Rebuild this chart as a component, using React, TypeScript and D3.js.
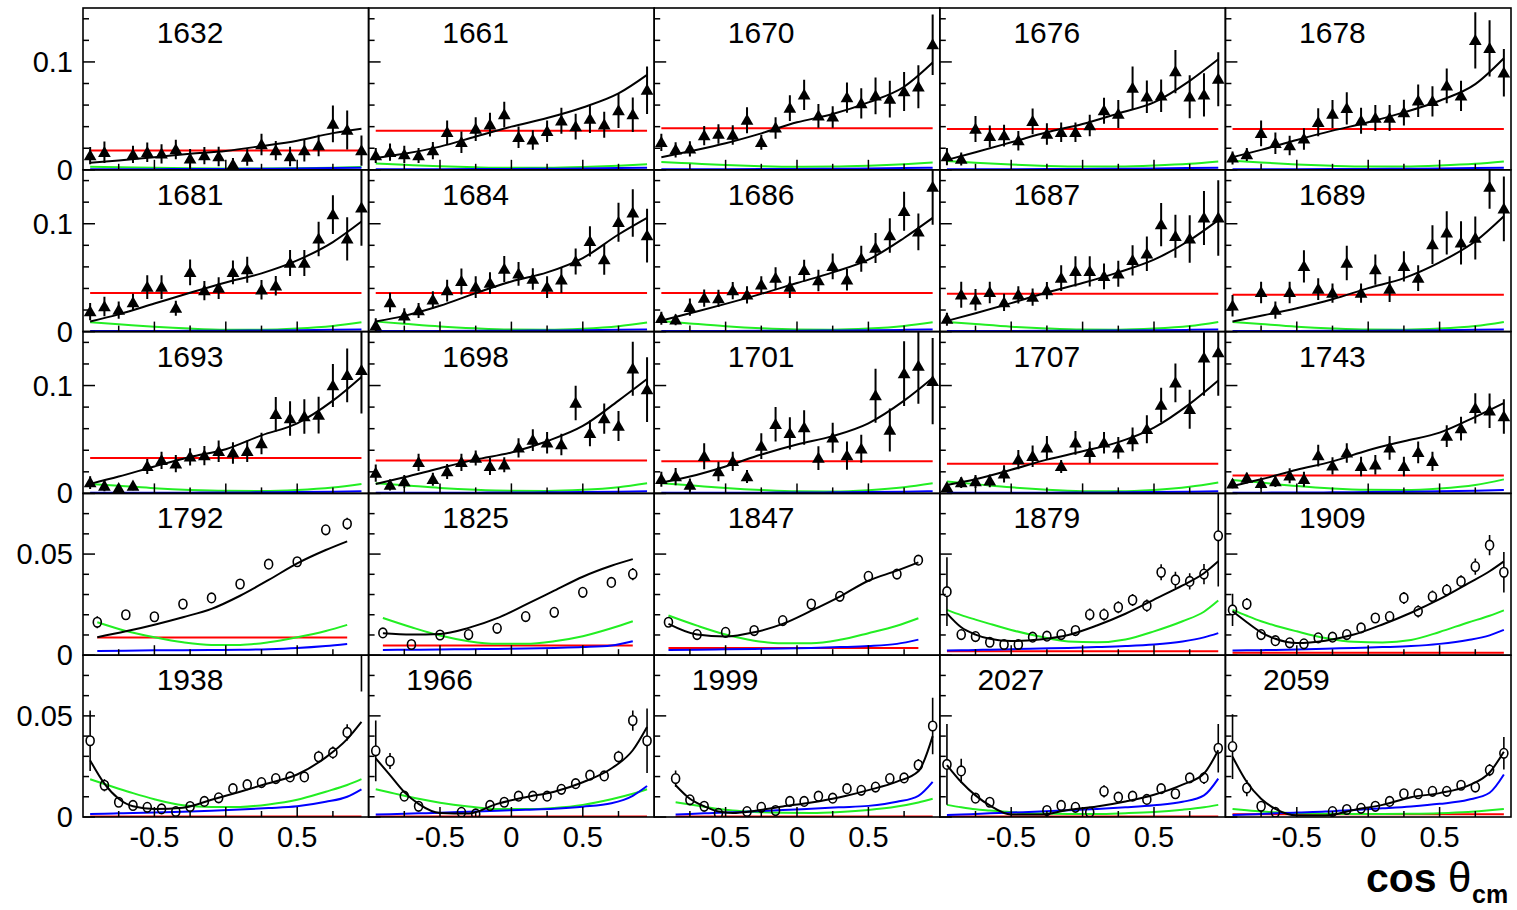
import React from "react";
import * as d3 from "d3";

// ---- curve sampling grids (cos theta) ----
const G9 = [-0.95, -0.75, -0.5, -0.25, 0, 0.25, 0.5, 0.75, 0.95];
const G13 = [-0.95, -0.85, -0.75, -0.65, -0.5, -0.3, -0.1, 0.1, 0.3, 0.5, 0.7, 0.85, 0.95];
const G13B = [-0.85, -0.75, -0.65, -0.55, -0.45, -0.3, -0.1, 0.1, 0.3, 0.5, 0.7, 0.85, 0.95];
const X20 = [-0.95, -0.85, -0.75, -0.65, -0.55, -0.45, -0.35, -0.25, -0.15, -0.05, 0.05, 0.15, 0.25, 0.35, 0.45, 0.55, 0.65, 0.75, 0.85, 0.95];
const X10 = [-0.9, -0.7, -0.5, -0.3, -0.1, 0.1, 0.3, 0.5, 0.7, 0.85];
const BLUE_LOW = [0.0005, 0.0005, 0.0006, 0.0007, 0.0008, 0.001, 0.0012, 0.0016, 0.002];

// ---- W = 1632 ----
const x1632 = [-0.95, -0.85, -0.65, -0.55, -0.45, -0.35, -0.25, -0.15, -0.05, 0.05, 0.15, 0.25, 0.35, 0.45, 0.55, 0.65, 0.75, 0.85, 0.95];
const y1632 = [0.0132, 0.0163, 0.0142, 0.0163, 0.0148, 0.0188, 0.0102, 0.0132, 0.0123, 0.0049, 0.0117, 0.0234, 0.0178, 0.0123, 0.0178, 0.0225, 0.0425, 0.0369, 0.0178];
const e1632 = [0.008, 0.01, 0.008, 0.009, 0.009, 0.009, 0.009, 0.008, 0.009, 0.006, 0.008, 0.01, 0.009, 0.009, 0.01, 0.01, 0.017, 0.018, 0.014];
const black1632 = [0.0065, 0.0086, 0.0117, 0.0148, 0.0175, 0.022, 0.027, 0.034, 0.038];
const green1632 = [0.0028, 0.0024, 0.0018, 0.0014, 0.0012, 0.0012, 0.0015, 0.002, 0.0026];
const red1632 = 0.018;

// ---- W = 1661 ----
const y1661 = [0.0132, 0.0163, 0.0142, 0.0132, 0.0178, 0.0348, 0.0255, 0.0378, 0.0418, 0.0511, 0.0302, 0.0277, 0.0357, 0.0455, 0.04, 0.0471, 0.0418, 0.0548, 0.0511, 0.0738];
const e1661 = [0.007, 0.008, 0.008, 0.007, 0.008, 0.011, 0.01, 0.011, 0.011, 0.012, 0.01, 0.009, 0.01, 0.012, 0.012, 0.013, 0.012, 0.016, 0.016, 0.022];
const black1661 = [0.011, 0.0148, 0.0215, 0.0308, 0.04, 0.048, 0.0578, 0.0708, 0.088];
const green1661 = [0.0058, 0.0046, 0.0032, 0.0023, 0.0018, 0.0019, 0.0026, 0.0038, 0.0052];
const red1661 = 0.0363;

// ---- W = 1670 ----
const y1670 = [0.0255, 0.0185, 0.0194, 0.0317, 0.0332, 0.0323, 0.046, 0.0255, 0.0388, 0.0572, 0.0695, 0.05, 0.049, 0.067, 0.0615, 0.0686, 0.0655, 0.0726, 0.077, 0.116];
const e1670 = [0.008, 0.007, 0.007, 0.009, 0.009, 0.009, 0.012, 0.007, 0.01, 0.012, 0.014, 0.011, 0.01, 0.014, 0.014, 0.017, 0.017, 0.018, 0.02, 0.028];
const black1670 = [0.0117, 0.0172, 0.0246, 0.0338, 0.044, 0.0517, 0.0625, 0.077, 0.0994];
const green1670 = [0.0072, 0.006, 0.0045, 0.0034, 0.0029, 0.003, 0.0038, 0.0052, 0.0068];
const red1670 = 0.0385;

// ---- W = 1676 ----
const y1676 = [0.0123, 0.01, 0.0378, 0.031, 0.0317, 0.027, 0.0449, 0.0332, 0.0348, 0.0348, 0.041, 0.0548, 0.0517, 0.0757, 0.0677, 0.0686, 0.091, 0.0677, 0.0695, 0.084];
const e1676 = [0.008, 0.006, 0.012, 0.01, 0.01, 0.009, 0.012, 0.01, 0.009, 0.009, 0.01, 0.012, 0.013, 0.02, 0.015, 0.015, 0.02, 0.02, 0.02, 0.025];
const black1676 = [0.0092, 0.0163, 0.0255, 0.0348, 0.0425, 0.0523, 0.0625, 0.0825, 0.1025];
const green1676 = [0.0082, 0.0066, 0.0048, 0.0036, 0.003, 0.0031, 0.004, 0.0056, 0.0078];
const red1676 = 0.0378;

// ---- W = 1678 ----
const y1678 = [0.011, 0.0142, 0.0338, 0.0246, 0.0225, 0.0286, 0.044, 0.0517, 0.057, 0.0455, 0.048, 0.048, 0.053, 0.064, 0.0634, 0.0778, 0.0686, 0.12, 0.1126, 0.09];
const e1678 = [0.006, 0.006, 0.012, 0.01, 0.009, 0.01, 0.013, 0.013, 0.015, 0.012, 0.012, 0.012, 0.012, 0.015, 0.014, 0.016, 0.014, 0.026, 0.026, 0.022];
const black1678 = [0.0117, 0.0185, 0.0277, 0.0363, 0.044, 0.0532, 0.064, 0.0794, 0.1034];
const green1678 = [0.0085, 0.0068, 0.005, 0.0037, 0.003, 0.0031, 0.004, 0.0056, 0.0078];
const red1678 = 0.0378;

// ---- W = 1681 ----
const y1681 = [0.0186, 0.0233, 0.02, 0.027, 0.0412, 0.0412, 0.0217, 0.0549, 0.038, 0.0403, 0.0549, 0.0574, 0.0388, 0.0425, 0.0636, 0.0636, 0.0859, 0.1085, 0.0859, 0.1147];
const e1681 = [0.008, 0.009, 0.008, 0.008, 0.011, 0.011, 0.007, 0.012, 0.009, 0.01, 0.011, 0.012, 0.009, 0.009, 0.012, 0.012, 0.016, 0.018, 0.02, 0.035];
const black1681 = [0.0093, 0.016, 0.026, 0.036, 0.0456, 0.054, 0.066, 0.083, 0.102];
const green1681 = [0.0086, 0.0068, 0.0045, 0.0028, 0.0018, 0.0017, 0.0028, 0.0052, 0.0086];
const red1681 = 0.0357;

// ---- W = 1684 ----
const y1684 = [0.0053, 0.027, 0.0146, 0.0195, 0.0295, 0.038, 0.0465, 0.0412, 0.045, 0.058, 0.0536, 0.0487, 0.0412, 0.048, 0.065, 0.0837, 0.0667, 0.1014, 0.11, 0.089];
const e1684 = [0.007, 0.009, 0.007, 0.007, 0.008, 0.01, 0.012, 0.01, 0.01, 0.012, 0.011, 0.01, 0.01, 0.012, 0.012, 0.014, 0.014, 0.018, 0.022, 0.025];
const black1684 = [0.0093, 0.0146, 0.0239, 0.0357, 0.0465, 0.0549, 0.0682, 0.09, 0.1054];
const green1684 = [0.0093, 0.0072, 0.0047, 0.003, 0.0019, 0.0017, 0.0027, 0.005, 0.0084];
const red1684 = 0.0357;

// ---- W = 1686 ----
const y1686 = [0.0124, 0.0109, 0.0226, 0.031, 0.0307, 0.038, 0.0341, 0.0434, 0.0496, 0.0412, 0.0567, 0.0474, 0.0605, 0.048, 0.0676, 0.0775, 0.089, 0.1116, 0.0924, 0.134];
const e1686 = [0.006, 0.005, 0.008, 0.008, 0.008, 0.008, 0.008, 0.008, 0.01, 0.01, 0.01, 0.01, 0.012, 0.01, 0.012, 0.014, 0.016, 0.018, 0.017, 0.035];
const black1686 = [0.0102, 0.017, 0.0257, 0.035, 0.045, 0.0549, 0.0667, 0.0868, 0.1054];
const green1686 = [0.0098, 0.0076, 0.005, 0.0031, 0.002, 0.0018, 0.0028, 0.0052, 0.0086];
const red1686 = 0.0357;

// ---- W = 1687 ----
const y1687 = [0.0115, 0.0341, 0.0295, 0.0363, 0.027, 0.0341, 0.032, 0.038, 0.0496, 0.0558, 0.0558, 0.0512, 0.0536, 0.066, 0.0722, 0.0992, 0.0884, 0.0859, 0.1054, 0.1054];
const e1687 = [0.006, 0.012, 0.01, 0.01, 0.008, 0.008, 0.008, 0.008, 0.012, 0.014, 0.014, 0.012, 0.012, 0.014, 0.016, 0.02, 0.02, 0.022, 0.025, 0.035];
const black1687 = [0.0099, 0.017, 0.0264, 0.0363, 0.045, 0.0549, 0.0667, 0.0847, 0.1033];
const green1687 = [0.009, 0.007, 0.0046, 0.0029, 0.0019, 0.0018, 0.0028, 0.0052, 0.009];
const red1687 = 0.035;

// ---- W = 1689 ----
const x1689 = [-0.95, -0.75, -0.65, -0.55, -0.45, -0.35, -0.25, -0.15, -0.05, 0.05, 0.15, 0.25, 0.35, 0.45, 0.55, 0.65, 0.75, 0.85, 0.95];
const y1689 = [0.0239, 0.0363, 0.02, 0.0363, 0.0605, 0.0394, 0.0357, 0.0636, 0.0357, 0.0574, 0.0394, 0.0605, 0.0496, 0.0806, 0.0915, 0.0822, 0.0868, 0.134, 0.1138];
const e1689 = [0.01, 0.01, 0.008, 0.01, 0.015, 0.01, 0.009, 0.016, 0.009, 0.014, 0.012, 0.014, 0.012, 0.018, 0.02, 0.02, 0.02, 0.02, 0.03];
const black1689 = [0.0093, 0.0146, 0.0217, 0.03, 0.0403, 0.0496, 0.0642, 0.0837, 0.107];
const green1689 = [0.009, 0.007, 0.0046, 0.0029, 0.0019, 0.0018, 0.0028, 0.0052, 0.009];
const red1689 = 0.0341;

// ---- W = 1693 ----
const y1693 = [0.01, 0.0069, 0.0047, 0.0069, 0.025, 0.0306, 0.0275, 0.0338, 0.035, 0.039, 0.0375, 0.039, 0.0463, 0.0734, 0.0694, 0.0713, 0.0725, 0.1, 0.1094, 0.114];
const e1693 = [0.006, 0.005, 0.004, 0.004, 0.007, 0.008, 0.008, 0.008, 0.009, 0.01, 0.01, 0.01, 0.01, 0.016, 0.016, 0.016, 0.017, 0.02, 0.025, 0.04];
const black1693 = [0.0088, 0.0156, 0.025, 0.0338, 0.041, 0.0538, 0.065, 0.086, 0.108];
const green1693 = [0.0088, 0.0072, 0.0048, 0.0032, 0.0024, 0.0023, 0.0032, 0.0055, 0.0088];
const red1693 = 0.0328;

// ---- W = 1698 ----
const y1698 = [0.0188, 0.0078, 0.011, 0.0288, 0.0131, 0.0203, 0.0288, 0.0328, 0.025, 0.0266, 0.0422, 0.0494, 0.0469, 0.0453, 0.0838, 0.0556, 0.0694, 0.0625, 0.1156, 0.0963];
const e1698 = [0.008, 0.005, 0.006, 0.008, 0.006, 0.007, 0.008, 0.007, 0.008, 0.007, 0.009, 0.01, 0.01, 0.01, 0.016, 0.012, 0.014, 0.014, 0.025, 0.03];
const black1698 = [0.0088, 0.015, 0.0234, 0.0313, 0.038, 0.0484, 0.0625, 0.086, 0.106];
const green1698 = [0.0094, 0.0075, 0.005, 0.0033, 0.0024, 0.0023, 0.0033, 0.0058, 0.0094];
const red1698 = 0.0306;

// ---- W = 1701 ----
const y1701 = [0.0131, 0.0156, 0.0078, 0.0344, 0.0203, 0.0297, 0.0156, 0.0438, 0.064, 0.0556, 0.061, 0.0328, 0.0516, 0.035, 0.0413, 0.0906, 0.0588, 0.111, 0.118, 0.104];
const e1701 = [0.007, 0.008, 0.006, 0.012, 0.009, 0.009, 0.006, 0.012, 0.016, 0.015, 0.016, 0.011, 0.014, 0.013, 0.013, 0.025, 0.02, 0.03, 0.035, 0.04];
const black1701 = [0.01, 0.0156, 0.025, 0.036, 0.0453, 0.0531, 0.065, 0.086, 0.107];
const green1701 = [0.0094, 0.0075, 0.005, 0.0031, 0.0019, 0.0018, 0.003, 0.0057, 0.0094];
const red1701 = 0.0297;

// ---- W = 1707 ----
const y1707 = [0.0056, 0.01, 0.011, 0.0116, 0.0181, 0.0313, 0.0344, 0.0422, 0.025, 0.0469, 0.038, 0.0469, 0.0422, 0.05, 0.0594, 0.0819, 0.1025, 0.078, 0.1256, 0.1306];
const e1707 = [0.004, 0.005, 0.006, 0.006, 0.008, 0.009, 0.01, 0.011, 0.006, 0.011, 0.01, 0.01, 0.01, 0.011, 0.013, 0.016, 0.018, 0.018, 0.035, 0.04];
const black1707 = [0.0078, 0.0131, 0.0219, 0.0313, 0.039, 0.0475, 0.061, 0.083, 0.1047];
const green1707 = [0.011, 0.0086, 0.0056, 0.0034, 0.0021, 0.0019, 0.0032, 0.0062, 0.0102];
const red1707 = 0.0275;

// ---- W = 1743 ----
const y1743 = [0.0088, 0.0141, 0.0094, 0.011, 0.0163, 0.0131, 0.035, 0.0256, 0.0375, 0.025, 0.0266, 0.0422, 0.025, 0.038, 0.0297, 0.0531, 0.06, 0.0788, 0.0766, 0.0713];
const e1743 = [0.004, 0.005, 0.005, 0.005, 0.007, 0.007, 0.01, 0.008, 0.009, 0.009, 0.009, 0.011, 0.009, 0.01, 0.009, 0.01, 0.011, 0.014, 0.016, 0.016];
const black1743 = [0.0069, 0.0131, 0.0219, 0.0297, 0.04, 0.0484, 0.0563, 0.071, 0.0838];
const green1743 = [0.0125, 0.01, 0.0068, 0.0045, 0.0033, 0.0031, 0.0045, 0.0078, 0.013];
const blue1743 = [0.0006, 0.0007, 0.0008, 0.001, 0.0012, 0.0015, 0.0019, 0.0025, 0.0032];
const red1743 = 0.0166;

// ---- W = 1792 ----
const y1792 = [0.0163, 0.02, 0.019, 0.0253, 0.0283, 0.0352, 0.045, 0.0462, 0.062, 0.065];
const e1792 = [0.003, 0.002, 0.0015, 0.0015, 0.0015, 0.0015, 0.002, 0.0015, 0.0018, 0.003];
const black1792 = [0.0089, 0.0118, 0.0151, 0.0188, 0.0229, 0.0294, 0.0372, 0.0454, 0.052, 0.0563];
const green1792 = [0.0163, 0.012, 0.0089, 0.0064, 0.0051, 0.0051, 0.0064, 0.0089, 0.012, 0.015];
const blue1792 = [0.0021, 0.0022, 0.0024, 0.0025, 0.0026, 0.0027, 0.003, 0.0036, 0.0046, 0.0056];
const red1792 = 0.0087;

// ---- W = 1825 ----
const y1825 = [0.011, 0.0053, 0.01, 0.0102, 0.0133, 0.0191, 0.0212, 0.0311, 0.036, 0.0401];
const e1825 = [0.0018, 0.0015, 0.0015, 0.0015, 0.0015, 0.0015, 0.0015, 0.0015, 0.0015, 0.003];
const black1825 = [0.0109, 0.0102, 0.0105, 0.0135, 0.0183, 0.025, 0.0319, 0.0388, 0.0442, 0.0475];
const green1825 = [0.0184, 0.0138, 0.0097, 0.0069, 0.0056, 0.0056, 0.0069, 0.0094, 0.0133, 0.0168];
const blue1825 = [0.0026, 0.0027, 0.0028, 0.003, 0.0031, 0.0033, 0.0036, 0.004, 0.0048, 0.0069];
const red1825 = 0.0048;

// ---- W = 1847 ----
const y1847 = [0.0163, 0.0102, 0.0113, 0.0122, 0.0171, 0.0253, 0.0291, 0.039, 0.0401, 0.047];
const e1847 = [0.002, 0.0015, 0.0015, 0.0015, 0.0015, 0.0015, 0.0015, 0.0015, 0.0015, 0.0025];
const black1847 = [0.0155, 0.0102, 0.0092, 0.0113, 0.0155, 0.022, 0.029, 0.0368, 0.0418, 0.0459];
const green1847 = [0.0196, 0.0146, 0.0102, 0.0072, 0.0059, 0.0059, 0.0076, 0.0109, 0.0146, 0.0183];
const blue1847 = [0.0026, 0.0027, 0.0029, 0.0031, 0.0033, 0.0036, 0.004, 0.0045, 0.0056, 0.0077];
const red1847 = 0.0036;

// ---- W = 1879 ----
const y1879 = [0.0314, 0.0102, 0.0092, 0.0064, 0.0053, 0.0053, 0.0089, 0.0094, 0.0102, 0.0122, 0.0201, 0.0201, 0.0237, 0.0273, 0.0245, 0.041, 0.0372, 0.0365, 0.0401, 0.059];
const e1879 = [0.017, 0.002, 0.0018, 0.0018, 0.0018, 0.0018, 0.0018, 0.0018, 0.0018, 0.002, 0.003, 0.003, 0.003, 0.003, 0.003, 0.004, 0.004, 0.004, 0.005, 0.025];
const black1879 = [0.0207, 0.0138, 0.0102, 0.0081, 0.007, 0.0078, 0.01, 0.0147, 0.0205, 0.0275, 0.0345, 0.0405, 0.0464];
const green1879 = [0.0224, 0.0198, 0.0176, 0.0155, 0.0125, 0.0092, 0.0068, 0.0064, 0.0078, 0.0118, 0.0168, 0.0215, 0.027];
const blue1879 = [0.0023, 0.0024, 0.0026, 0.0027, 0.003, 0.0033, 0.0036, 0.004, 0.0045, 0.0053, 0.0068, 0.0088, 0.0109];
const red1879 = 0.002;

// ---- W = 1909 ----
const y1909 = [0.0224, 0.0253, 0.0102, 0.0072, 0.0061, 0.0056, 0.0086, 0.0089, 0.0102, 0.0135, 0.0184, 0.0191, 0.0283, 0.0217, 0.029, 0.0322, 0.0365, 0.0438, 0.0544, 0.041];
const e1909 = [0.008, 0.003, 0.002, 0.002, 0.0018, 0.0018, 0.0018, 0.0018, 0.0018, 0.002, 0.002, 0.002, 0.003, 0.003, 0.003, 0.003, 0.003, 0.004, 0.005, 0.01];
const black1909 = [0.0217, 0.0163, 0.0113, 0.0081, 0.006, 0.0072, 0.0102, 0.0152, 0.021, 0.0277, 0.0355, 0.0415, 0.0464];
const green1909 = [0.0224, 0.0195, 0.0168, 0.0146, 0.0118, 0.0085, 0.0066, 0.0063, 0.0075, 0.0115, 0.0162, 0.0195, 0.0222];
const blue1909 = [0.0023, 0.0024, 0.0025, 0.0026, 0.0028, 0.0032, 0.0036, 0.004, 0.0045, 0.0056, 0.0075, 0.0098, 0.0125];
const red1909 = 0.0012;

// ---- W = 1938 ----
const y1938 = [0.0377, 0.0157, 0.0073, 0.0057, 0.0048, 0.004, 0.0027, 0.0052, 0.0077, 0.0095, 0.014, 0.016, 0.017, 0.019, 0.0198, 0.0198, 0.0298, 0.0318, 0.0418, 0.09];
const e1938 = [0.015, 0.003, 0.0018, 0.0015, 0.0015, 0.0015, 0.0015, 0.0015, 0.0015, 0.0018, 0.0018, 0.0018, 0.002, 0.002, 0.002, 0.002, 0.003, 0.003, 0.004, 0.028];
const black1938 = [0.028, 0.0165, 0.009, 0.0053, 0.004, 0.0046, 0.0085, 0.0125, 0.0167, 0.021, 0.0295, 0.0385, 0.047];
const green1938 = [0.0187, 0.0163, 0.014, 0.0118, 0.0088, 0.0058, 0.0049, 0.005, 0.0062, 0.0085, 0.0125, 0.0158, 0.0187];
const blue1938 = [0.0015, 0.0016, 0.0018, 0.002, 0.0022, 0.0026, 0.0031, 0.0037, 0.0044, 0.0053, 0.0075, 0.01, 0.0137];
const red1938 = 0.0003;

// ---- W = 1966 ----
const x1966 = [-0.95, -0.85, -0.75, -0.65, -0.35, -0.25, -0.15, -0.05, 0.05, 0.15, 0.25, 0.35, 0.45, 0.55, 0.65, 0.75, 0.85, 0.95];
const y1966 = [0.0327, 0.0277, 0.0103, 0.0053, 0.0023, 0.0015, 0.0057, 0.0073, 0.0103, 0.0103, 0.0103, 0.0137, 0.0165, 0.0207, 0.0203, 0.0298, 0.0477, 0.0377];
const e1966 = [0.015, 0.004, 0.002, 0.002, 0.0015, 0.0015, 0.0015, 0.0015, 0.0015, 0.0015, 0.0015, 0.0018, 0.002, 0.002, 0.002, 0.003, 0.005, 0.016];
const black1966 = [0.029, 0.0207, 0.0123, 0.0065, 0.002, 0.0017, 0.0065, 0.0098, 0.0125, 0.0172, 0.024, 0.033, 0.0445];
const green1966 = [0.0137, 0.0121, 0.0105, 0.009, 0.0071, 0.0052, 0.0039, 0.0039, 0.0045, 0.006, 0.0088, 0.0115, 0.0137];
const blue1966 = [0.0012, 0.0014, 0.0016, 0.0018, 0.0021, 0.0026, 0.0031, 0.0036, 0.0041, 0.0051, 0.0068, 0.0105, 0.0153];
const red1966 = 0.0003;

// ---- W = 1999 ----
const x1999 = [-0.85, -0.75, -0.65, -0.55, -0.35, -0.25, -0.15, -0.05, 0.05, 0.15, 0.25, 0.35, 0.45, 0.55, 0.65, 0.75, 0.85, 0.95];
const y1999 = [0.019, 0.0085, 0.0053, 0.0018, 0.0027, 0.0048, 0.0032, 0.0077, 0.0077, 0.0103, 0.0093, 0.014, 0.0132, 0.0148, 0.019, 0.0193, 0.0257, 0.045];
const e1999 = [0.004, 0.002, 0.0015, 0.0015, 0.0015, 0.0015, 0.0015, 0.0015, 0.0015, 0.0015, 0.0015, 0.0015, 0.0015, 0.0015, 0.0015, 0.002, 0.003, 0.014];
const black1999 = [0.0157, 0.009, 0.0053, 0.0027, 0.002, 0.003, 0.0052, 0.0072, 0.0098, 0.0133, 0.0175, 0.0226, 0.04];
const green1999 = [0.0073, 0.0062, 0.0051, 0.004, 0.0032, 0.0025, 0.0021, 0.002, 0.0025, 0.0035, 0.0052, 0.0072, 0.009];
const blue1999 = [0.0012, 0.0015, 0.0018, 0.0021, 0.0023, 0.0028, 0.0034, 0.0041, 0.0048, 0.0055, 0.0075, 0.0105, 0.0174];
const red1999 = 0.0003;

// ---- W = 2027 ----
const x2027 = [-0.95, -0.85, -0.75, -0.65, -0.25, -0.15, -0.05, 0.05, 0.15, 0.25, 0.35, 0.45, 0.55, 0.65, 0.75, 0.85, 0.95];
const y2027 = [0.026, 0.0228, 0.0093, 0.0073, 0.0032, 0.0057, 0.0048, 0.0023, 0.0127, 0.0098, 0.0103, 0.0087, 0.014, 0.0115, 0.0193, 0.0193, 0.034];
const e2027 = [0.02, 0.006, 0.002, 0.002, 0.0015, 0.0015, 0.0015, 0.0015, 0.003, 0.002, 0.002, 0.002, 0.002, 0.002, 0.002, 0.003, 0.012];
const black2027 = [0.0257, 0.0173, 0.0107, 0.0057, 0.0012, 0.0012, 0.0035, 0.0052, 0.0077, 0.011, 0.016, 0.0215, 0.033];
const green2027 = [0.006, 0.0048, 0.0038, 0.0032, 0.0024, 0.0017, 0.0015, 0.0015, 0.0019, 0.0025, 0.0036, 0.0048, 0.006];
const blue2027 = [0.001, 0.0012, 0.0015, 0.0018, 0.0022, 0.0027, 0.0033, 0.004, 0.0048, 0.0058, 0.0075, 0.0107, 0.019];
const red2027 = 0.0003;

// ---- W = 2059 ----
const x2059 = [-0.95, -0.85, -0.75, -0.65, -0.25, -0.15, -0.05, 0.05, 0.15, 0.25, 0.35, 0.45, 0.55, 0.65, 0.75, 0.85, 0.95];
const y2059 = [0.0348, 0.0143, 0.0053, 0.0023, 0.0027, 0.0037, 0.0043, 0.0053, 0.0077, 0.0115, 0.0115, 0.0127, 0.0127, 0.0157, 0.0148, 0.0232, 0.0315];
const e2059 = [0.016, 0.004, 0.002, 0.0015, 0.0015, 0.0015, 0.0015, 0.0015, 0.0015, 0.0015, 0.0015, 0.0015, 0.0015, 0.002, 0.002, 0.003, 0.008];
const black2059 = [0.0298, 0.0173, 0.009, 0.004, 0.0008, 0.0008, 0.0035, 0.006, 0.0098, 0.0118, 0.0155, 0.022, 0.0323];
const green2059 = [0.004, 0.0033, 0.0027, 0.0023, 0.0019, 0.0016, 0.0015, 0.0015, 0.0016, 0.0019, 0.0025, 0.0033, 0.004];
const blue2059 = [0.001, 0.0012, 0.0015, 0.0018, 0.0022, 0.0027, 0.0035, 0.0043, 0.0052, 0.0065, 0.0085, 0.012, 0.021];
const red2059 = 0.0013;

// ---- axis ticks ----
const X_MAJOR = [-0.5, 0, 0.5];
const X_MINOR = [-0.75, -0.25, 0.25, 0.75];
const X_LABELS = ["-0.5", "0", "0.5"];
const Y_HI_DOMAIN = [0, 0.15];
const Y_LO_DOMAIN = [0, 0.08];
const Y_HI_MAJOR = [0, 0.1];
const Y_HI_MINOR = [0.02, 0.04, 0.06, 0.08, 0.12, 0.14];
const Y_HI_LABELS = ["0", "0.1"];
const Y_LO_MAJOR = [0, 0.05];
const Y_LO_MINOR = [0.01, 0.02, 0.03, 0.04, 0.06, 0.07];
const Y_LO_LABELS = ["0", "0.05"];

type Panel = {
  w: number;
  x: number[];
  y: number[];
  e: number[];
  cx: number[];
  black: number[];
  green: number[];
  blue: number[];
  red: number;
};

const panels: Panel[] = [
  { w: 1632, x: x1632, y: y1632, e: e1632, cx: G9, black: black1632, green: green1632, blue: BLUE_LOW, red: red1632 },
  { w: 1661, x: X20, y: y1661, e: e1661, cx: G9, black: black1661, green: green1661, blue: BLUE_LOW, red: red1661 },
  { w: 1670, x: X20, y: y1670, e: e1670, cx: G9, black: black1670, green: green1670, blue: BLUE_LOW, red: red1670 },
  { w: 1676, x: X20, y: y1676, e: e1676, cx: G9, black: black1676, green: green1676, blue: BLUE_LOW, red: red1676 },
  { w: 1678, x: X20, y: y1678, e: e1678, cx: G9, black: black1678, green: green1678, blue: BLUE_LOW, red: red1678 },
  { w: 1681, x: X20, y: y1681, e: e1681, cx: G9, black: black1681, green: green1681, blue: BLUE_LOW, red: red1681 },
  { w: 1684, x: X20, y: y1684, e: e1684, cx: G9, black: black1684, green: green1684, blue: BLUE_LOW, red: red1684 },
  { w: 1686, x: X20, y: y1686, e: e1686, cx: G9, black: black1686, green: green1686, blue: BLUE_LOW, red: red1686 },
  { w: 1687, x: X20, y: y1687, e: e1687, cx: G9, black: black1687, green: green1687, blue: BLUE_LOW, red: red1687 },
  { w: 1689, x: x1689, y: y1689, e: e1689, cx: G9, black: black1689, green: green1689, blue: BLUE_LOW, red: red1689 },
  { w: 1693, x: X20, y: y1693, e: e1693, cx: G9, black: black1693, green: green1693, blue: BLUE_LOW, red: red1693 },
  { w: 1698, x: X20, y: y1698, e: e1698, cx: G9, black: black1698, green: green1698, blue: BLUE_LOW, red: red1698 },
  { w: 1701, x: X20, y: y1701, e: e1701, cx: G9, black: black1701, green: green1701, blue: BLUE_LOW, red: red1701 },
  { w: 1707, x: X20, y: y1707, e: e1707, cx: G9, black: black1707, green: green1707, blue: BLUE_LOW, red: red1707 },
  { w: 1743, x: X20, y: y1743, e: e1743, cx: G9, black: black1743, green: green1743, blue: blue1743, red: red1743 },
  { w: 1792, x: X10, y: y1792, e: e1792, cx: X10, black: black1792, green: green1792, blue: blue1792, red: red1792 },
  { w: 1825, x: X10, y: y1825, e: e1825, cx: X10, black: black1825, green: green1825, blue: blue1825, red: red1825 },
  { w: 1847, x: X10, y: y1847, e: e1847, cx: X10, black: black1847, green: green1847, blue: blue1847, red: red1847 },
  { w: 1879, x: X20, y: y1879, e: e1879, cx: G13, black: black1879, green: green1879, blue: blue1879, red: red1879 },
  { w: 1909, x: X20, y: y1909, e: e1909, cx: G13, black: black1909, green: green1909, blue: blue1909, red: red1909 },
  { w: 1938, x: X20, y: y1938, e: e1938, cx: G13, black: black1938, green: green1938, blue: blue1938, red: red1938 },
  { w: 1966, x: x1966, y: y1966, e: e1966, cx: G13, black: black1966, green: green1966, blue: blue1966, red: red1966 },
  { w: 1999, x: x1999, y: y1999, e: e1999, cx: G13B, black: black1999, green: green1999, blue: blue1999, red: red1999 },
  { w: 2027, x: x2027, y: y2027, e: e2027, cx: G13, black: black2027, green: green2027, blue: blue2027, red: red2027 },
  { w: 2059, x: x2059, y: y2059, e: e2059, cx: G13, black: black2059, green: green2059, blue: blue2059, red: red2059 },
];

// ---- layout ----
const WIDTH = 1517;
const HEIGHT = 910;
const LEFT = 83;
const TOP = 8;
const PW = 285.6;
const PH = 161.8;
const NCOL = 5;
const FONT = "'Liberation Sans', Arial, Helvetica, sans-serif";
const GREEN = "#22ee22";
const BLUE = "#0000ff";
const RED = "#ff0000";

const trianglePath = d3.symbol().type(d3.symbolTriangle).size(70)() as string;

function PanelView({ p, idx }: { p: Panel; idx: number }) {
  const row = Math.floor(idx / NCOL);
  const col = idx % NCOL;
  const x0 = LEFT + col * PW;
  const y0 = TOP + row * PH;
  const hi = row < 3;
  const xs = d3.scaleLinear().domain([-1, 1]).range([x0, x0 + PW]);
  const ys = d3.scaleLinear().domain(hi ? Y_HI_DOMAIN : Y_LO_DOMAIN).range([y0 + PH, y0]);
  const pts = (vals: number[]) => p.cx.map((c, i) => [c, vals[i]] as [number, number]);
  const line = d3
    .line<[number, number]>()
    .x((d) => xs(d[0]))
    .y((d) => ys(d[1]))
    .curve(d3.curveMonotoneX);
  const clipId = `clip-${idx}`;
  const cxFirst = p.cx[0];
  const cxLast = p.cx[p.cx.length - 1];
  const major = hi ? Y_HI_MAJOR : Y_LO_MAJOR;
  const minor = hi ? Y_HI_MINOR : Y_LO_MINOR;
  const ylabels = hi ? Y_HI_LABELS : Y_LO_LABELS;
  const titleDx = row === 4 && col > 0 ? 71 : 107;
  const rx = 4;
  const ry = 4.8;

  return (
    <g>
      <defs>
        <clipPath id={clipId}>
          <rect x={x0} y={y0} width={PW} height={PH} />
        </clipPath>
      </defs>
      <g clipPath={`url(#${clipId})`}>
        <line x1={xs(cxFirst)} x2={xs(cxLast)} y1={ys(p.red)} y2={ys(p.red)} stroke={RED} strokeWidth={2} />
        <path d={line(pts(p.green)) || ""} fill="none" stroke={GREEN} strokeWidth={2} />
        <path d={line(pts(p.blue)) || ""} fill="none" stroke={BLUE} strokeWidth={2} />
        <path d={line(pts(p.black)) || ""} fill="none" stroke="#000" strokeWidth={2} />
        {p.x.map((xv, i) => {
          const px = xs(xv);
          const py = ys(p.y[i]);
          const top = ys(p.y[i] + p.e[i]);
          const bot = ys(Math.max(0, p.y[i] - p.e[i]));
          if (hi) {
            return (
              <g key={i}>
                <line x1={px} x2={px} y1={top} y2={bot} stroke="#000" strokeWidth={2} />
                <path d={trianglePath} transform={`translate(${px},${py + 1})`} fill="#000" />
              </g>
            );
          }
          return (
            <g key={i}>
              {top < py - ry && <line x1={px} x2={px} y1={top} y2={py - ry} stroke="#000" strokeWidth={1.6} />}
              {bot > py + ry && <line x1={px} x2={px} y1={py + ry} y2={bot} stroke="#000" strokeWidth={1.6} />}
              <ellipse cx={px} cy={py} rx={rx} ry={ry} fill="none" stroke="#000" strokeWidth={1.6} />
            </g>
          );
        })}
      </g>
      {/* tick marks */}
      {X_MAJOR.map((t) => (
        <line key={`xM${t}`} x1={xs(t)} x2={xs(t)} y1={y0 + PH} y2={y0 + PH - 10} stroke="#000" strokeWidth={1.5} />
      ))}
      {X_MINOR.map((t) => (
        <line key={`xm${t}`} x1={xs(t)} x2={xs(t)} y1={y0 + PH} y2={y0 + PH - 6} stroke="#000" strokeWidth={1.5} />
      ))}
      {major.map((t) => (
        <line key={`yM${t}`} x1={x0} x2={x0 + 12} y1={ys(t)} y2={ys(t)} stroke="#000" strokeWidth={1.5} />
      ))}
      {minor.map((t) => (
        <line key={`ym${t}`} x1={x0} x2={x0 + 6} y1={ys(t)} y2={ys(t)} stroke="#000" strokeWidth={1.5} />
      ))}
      <rect x={x0} y={y0} width={PW} height={PH} fill="none" stroke="#000" strokeWidth={1.6} />
      <text x={x0 + titleDx} y={y0 + 35} fontSize={30} fontFamily={FONT} textAnchor="middle">
        {p.w}
      </text>
      {col === 0 &&
        major.map((t, i) => (
          <text key={`yl${t}`} x={x0 - 10} y={ys(t) + 10} fontSize={29} fontFamily={FONT} textAnchor="end">
            {ylabels[i]}
          </text>
        ))}
      {row === 4 &&
        X_MAJOR.map((t, i) => (
          <text key={`xl${t}`} x={xs(t)} y={y0 + PH + 30} fontSize={29} fontFamily={FONT} textAnchor="middle">
            {X_LABELS[i]}
          </text>
        ))}
    </g>
  );
}

export default function App() {
  return (
    <svg
      width={WIDTH}
      height={HEIGHT}
      style={{ position: "absolute", left: 0, top: 0, background: "#fff" }}
    >
      <rect x={0} y={0} width={WIDTH} height={HEIGHT} fill="#fff" />
      {panels.map((p, i) => (
        <PanelView key={p.w} p={p} idx={i} />
      ))}
      <text x={1366} y={892} fontFamily={FONT} fontSize={41} fontWeight="bold">
        cos{" "}
        <tspan fontWeight="normal" fontSize={42}>θ</tspan>
      </text>
      <text x={1472} y={903} fontFamily={FONT} fontSize={25} fontWeight="bold">
        cm
      </text>
    </svg>
  );
}
